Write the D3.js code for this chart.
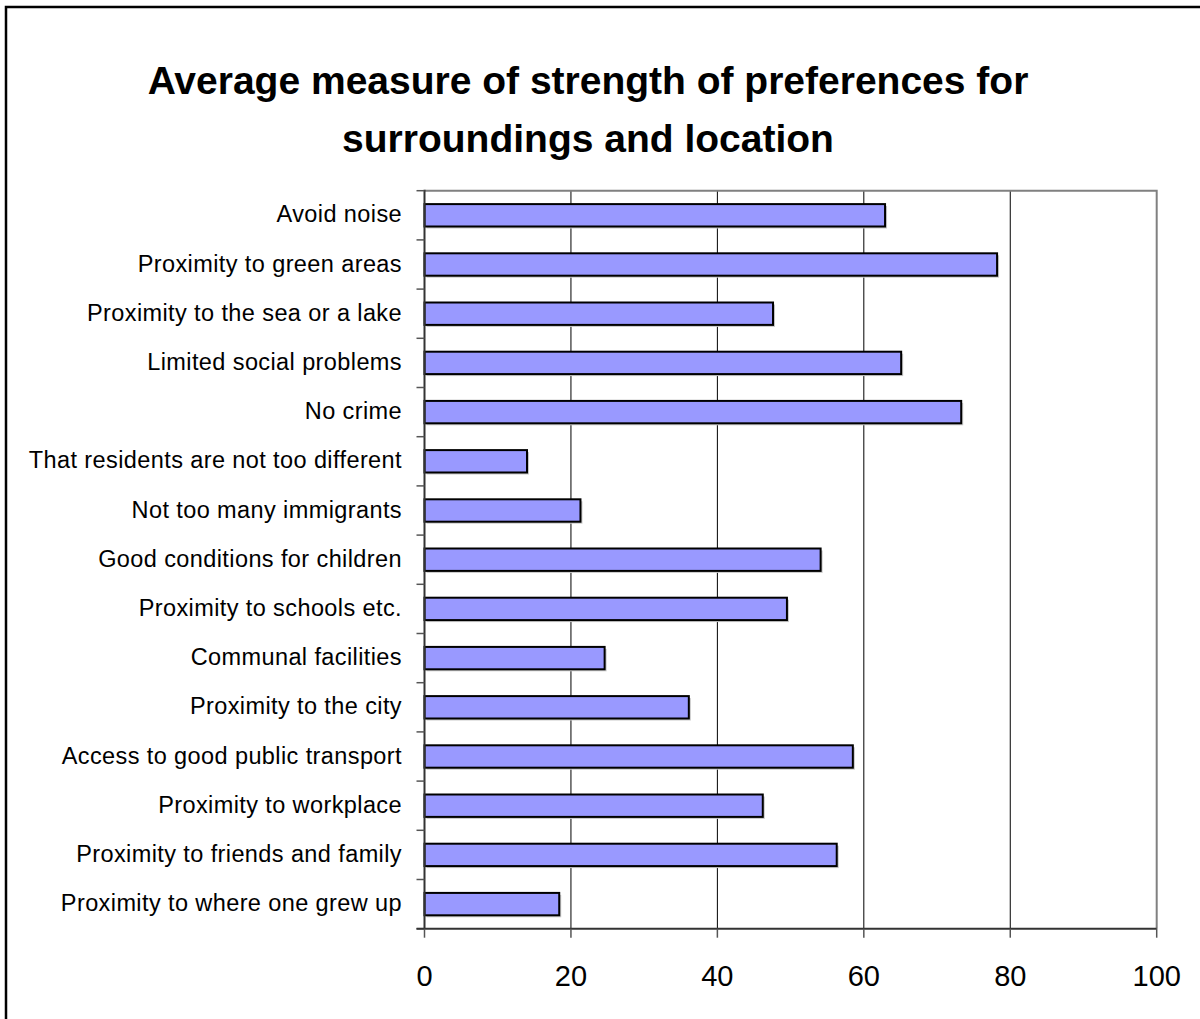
<!DOCTYPE html>
<html>
<head>
<meta charset="utf-8">
<script src="https://cdn.jsdelivr.net/npm/d3@7"></script>
<style>
  html, body { margin: 0; padding: 0; background: #fff; }
  svg { display: block; font-family: Arial, "Liberation Sans", sans-serif; }
</style>
</head>
<body>
<svg id="chart" width="1200" height="1019"></svg>
<script>
// chart data, top to bottom as drawn
var categories = [
  "Avoid noise",
  "Proximity to green areas",
  "Proximity to the sea or a lake",
  "Limited social problems",
  "No crime",
  "That residents are not too different",
  "Not too many immigrants",
  "Good conditions for children",
  "Proximity to schools etc.",
  "Communal facilities",
  "Proximity to  the city",
  "Access to good public transport",
  "Proximity to workplace",
  "Proximity to friends and family",
  "Proximity to where one grew up"
];
var values = [62.9, 78.2, 47.6, 65.1, 73.3, 14.0, 21.3, 54.1, 49.5, 24.6, 36.1, 58.5, 46.2, 56.3, 18.4];
var xTicks = [0, 20, 40, 60, 80, 100];
var titleLines = ["Average measure of strength of preferences for", "surroundings and location"];

var svg = d3.select("#chart");
var margin = {left: 424.5, right: 1156.7, top: 190.7, bottom: 928.7};

// outer frame (only top and left edges show in the picture)
svg.append("rect")
  .attr("x", 6).attr("y", 7)
  .attr("width", 1250).attr("height", 1100)
  .attr("fill", "none")
  .attr("stroke", "#000")
  .attr("stroke-width", 2.5);

// title
svg.append("g").selectAll("text")
  .data(titleLines)
  .join("text")
  .attr("x", 588)
  .attr("y", function(d, i) { return 94 + i * 58; })
  .attr("text-anchor", "middle")
  .attr("font-size", 39)
  .attr("font-weight", "bold")
  .attr("fill", "#000")
  .text(function(d) { return d; });

var x = d3.scaleLinear().domain([0, 100]).range([margin.left, margin.right]);
var y = d3.scaleBand()
  .domain(categories)
  .range([margin.top, margin.bottom])
  .paddingInner(0.545)
  .paddingOuter(0.2725);

// gridlines
svg.append("g").selectAll("line")
  .data(xTicks.filter(function(d) { return d > 0 && d < 100; }))
  .join("line")
  .attr("x1", function(d) { return x(d); })
  .attr("x2", function(d) { return x(d); })
  .attr("y1", margin.top)
  .attr("y2", margin.bottom)
  .attr("stroke", "#000")
  .attr("stroke-width", 1);

// plot border top and right
svg.append("path")
  .attr("d", "M" + margin.left + "," + margin.top + "H" + margin.right + "V" + margin.bottom)
  .attr("fill", "none")
  .attr("stroke", "#808080")
  .attr("stroke-width", 2);

// bar shadows
svg.append("g").selectAll("rect")
  .data(values)
  .join("rect")
  .attr("x", x(0) + 2)
  .attr("y", function(d, i) { return y(categories[i]) + 2; })
  .attr("width", function(d) { return x(d) - x(0); })
  .attr("height", y.bandwidth())
  .attr("fill", "#c8c8c8");

// bars
svg.append("g").selectAll("rect")
  .data(values)
  .join("rect")
  .attr("x", x(0))
  .attr("y", function(d, i) { return y(categories[i]); })
  .attr("width", function(d) { return x(d) - x(0); })
  .attr("height", y.bandwidth())
  .attr("fill", "#9999ff")
  .attr("stroke", "#000")
  .attr("stroke-width", 2);

// y axis: line, ticks at band edges, labels
var yAxis = svg.append("g");
yAxis.append("line")
  .attr("x1", margin.left).attr("x2", margin.left)
  .attr("y1", margin.top - 1).attr("y2", margin.bottom)
  .attr("stroke", "#333").attr("stroke-width", 2);
var edges = d3.range(categories.length + 1).map(function(i) { return margin.top + i * y.step(); });
yAxis.selectAll(".tk")
  .data(edges)
  .join("line")
  .attr("class", "tk")
  .attr("x1", margin.left - 8).attr("x2", margin.left)
  .attr("y1", function(d) { return d; }).attr("y2", function(d) { return d; })
  .attr("stroke", "#555").attr("stroke-width", 1.5);
yAxis.selectAll("text")
  .data(categories)
  .join("text")
  .attr("x", 402)
  .attr("y", function(d) { return y(d) + y.bandwidth() / 2; })
  .attr("dy", "0.3em")
  .attr("text-anchor", "end")
  .attr("font-size", 23.5)
  .attr("letter-spacing", 0.4)
  .attr("fill", "#000")
  .text(function(d) { return d; });

// x axis
var xAxis = svg.append("g");
xAxis.append("line")
  .attr("x1", margin.left - 8).attr("x2", margin.right)
  .attr("y1", margin.bottom).attr("y2", margin.bottom)
  .attr("stroke", "#333").attr("stroke-width", 2);
xAxis.selectAll(".tk")
  .data(xTicks)
  .join("line")
  .attr("class", "tk")
  .attr("x1", function(d) { return x(d); }).attr("x2", function(d) { return x(d); })
  .attr("y1", margin.bottom).attr("y2", margin.bottom + 9)
  .attr("stroke", "#555").attr("stroke-width", 1.5);
xAxis.selectAll("text")
  .data(xTicks)
  .join("text")
  .attr("x", function(d) { return x(d); })
  .attr("y", 986)
  .attr("text-anchor", "middle")
  .attr("font-size", 29)
  .attr("fill", "#000")
  .text(function(d) { return d; });
</script>
</body>
</html>
